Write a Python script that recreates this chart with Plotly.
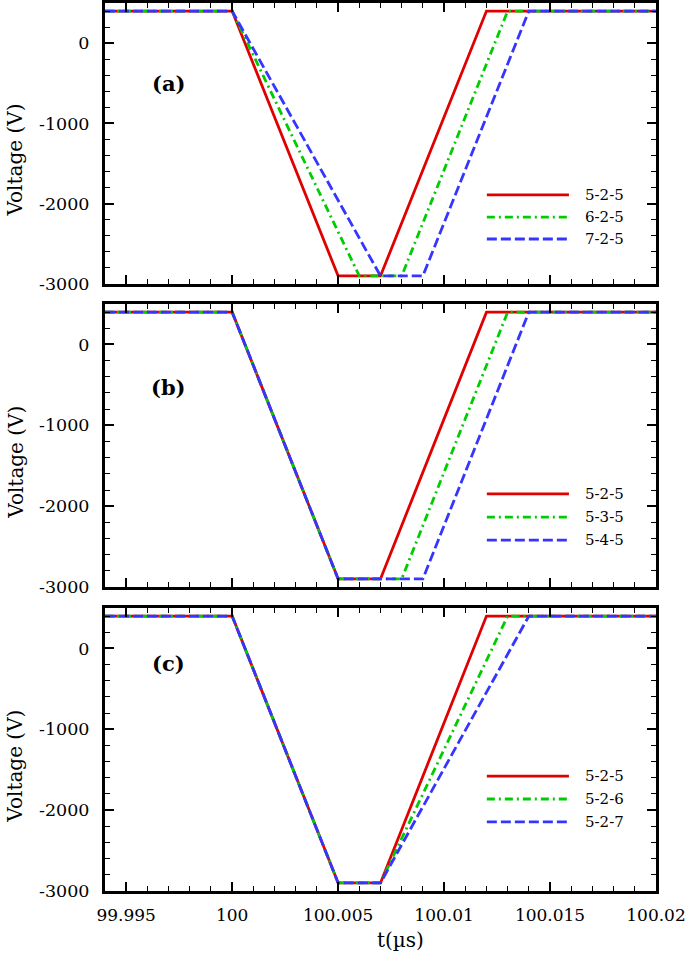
import plotly.graph_objects as go
from plotly.subplots import make_subplots

# ---------------- data ----------------
VOLT = [400, 400, -2900, -2900, 400, 400]

# panel (a)
T_A_525 = [99.994, 100.000, 100.005, 100.007, 100.012, 100.020]
T_A_625 = [99.994, 100.000, 100.006, 100.008, 100.013, 100.020]
T_A_725 = [99.994, 100.000, 100.007, 100.009, 100.014, 100.020]
# panel (b)
T_B_525 = [99.994, 100.000, 100.005, 100.007, 100.012, 100.020]
T_B_535 = [99.994, 100.000, 100.005, 100.008, 100.013, 100.020]
T_B_545 = [99.994, 100.000, 100.005, 100.009, 100.014, 100.020]
# panel (c)
T_C_525 = [99.994, 100.000, 100.005, 100.007, 100.012, 100.020]
T_C_526 = [99.994, 100.000, 100.005, 100.007, 100.013, 100.020]
T_C_527 = [99.994, 100.000, 100.005, 100.007, 100.014, 100.020]

NAMES_A = ["5-2-5", "6-2-5", "7-2-5"]
NAMES_B = ["5-2-5", "5-3-5", "5-4-5"]
NAMES_C = ["5-2-5", "5-2-6", "5-2-7"]
PANEL_LABELS = ["(a)", "(b)", "(c)"]

X_TICKS = [99.995, 100, 100.005, 100.01, 100.015, 100.02]
X_TICKTEXT = ["99.995", "100", "100.005", "100.01", "100.015", "100.02"]
Y_TICKS = [0, -1000, -2000, -3000]
Y_TICKTEXT = ["0", "-1000", "-2000", "-3000"]

# ---------------- styles ----------------
COLORS = ["#e00000", "#00cc00", "#3535ff"]
DASHES = ["solid", "8px,4px,2px,4px", "10px,4px"]
FONT = "DejaVu Serif"

panels = [
    ([T_A_525, T_A_625, T_A_725], NAMES_A),
    ([T_B_525, T_B_535, T_B_545], NAMES_B),
    ([T_C_525, T_C_526, T_C_527], NAMES_C),
]

fig = make_subplots(rows=3, cols=1, shared_xaxes=True, vertical_spacing=0.0)

domains = [[0.6836, 1.0], [0.3423, 0.661], [0.0, 0.3187]]

for r, (times, names) in enumerate(panels, start=1):
    for i, (t, nm) in enumerate(zip(times, names)):
        fig.add_trace(
            go.Scatter(x=t, y=VOLT, mode="lines", name=nm, showlegend=False,
                       line=dict(color=COLORS[i], width=2.8, dash=DASHES[i])),
            row=r, col=1)

axis_common = dict(showline=True, linewidth=3, linecolor="black", mirror="allticks",
                   ticks="inside", ticklen=9, tickwidth=1.8, tickcolor="black",
                   showgrid=False, zeroline=False, automargin=False)

for r in range(1, 4):
    xa = "xaxis" if r == 1 else f"xaxis{r}"
    ya = "yaxis" if r == 1 else f"yaxis{r}"
    fig.layout[xa].update(range=[99.994, 100.02], tickvals=X_TICKS, ticktext=X_TICKTEXT,
                          minor=dict(dtick=0.001, tick0=100, ticks="inside", ticklen=5,
                                     tickwidth=1.4, tickcolor="black"),
                          ticklabelstandoff=7, ticklabeloverflow="allow",
                          tickfont=dict(family=FONT, size=17, color="black"),
                          **axis_common)
    fig.layout[ya].update(range=[-3000, 500], tickvals=Y_TICKS, ticktext=Y_TICKTEXT,
                          domain=domains[r - 1],
                          minor=dict(dtick=200, tick0=0, ticks="inside", ticklen=5,
                                     tickwidth=1.4, tickcolor="black"),
                          ticklabelstandoff=9,
                          tickfont=dict(family=FONT, size=17.5, color="black"),
                          **axis_common)

fig.layout.xaxis3.showticklabels = True

label_y = [0.715, 0.705, 0.805]
for r in range(3):
    xr = "x domain" if r == 0 else f"x{r+1} domain"
    yr = "y domain" if r == 0 else f"y{r+1} domain"
    fig.add_annotation(text=f"<b>{PANEL_LABELS[r]}</b>", xref=xr, yref=yr,
                       x=0.116, y=label_y[r], xanchor="center", yanchor="middle",
                       showarrow=False, font=dict(family=FONT, size=21, color="black"))
    fig.add_annotation(text="Voltage (V)", xref="paper", yref=yr, x=-0.163, y=0.44,
                       xanchor="center", yanchor="middle",
                       textangle=-90, showarrow=False,
                       font=dict(family=FONT, size=20, color="black"))

leg_y = [[0.317, 0.238, 0.160], [0.329, 0.247, 0.166], [0.406, 0.325, 0.244]]
for r, (times, names) in enumerate(panels):
    xr = "x domain" if r == 0 else f"x{r+1} domain"
    yr = "y domain" if r == 0 else f"y{r+1} domain"
    for i, nm in enumerate(names):
        yy = leg_y[r][i]
        fig.add_shape(type="line", xref=xr, yref=yr, x0=0.693, x1=0.842, y0=yy, y1=yy,
                      line=dict(color=COLORS[i], width=2.8, dash=DASHES[i]))
        fig.add_annotation(text=nm, xref=xr, yref=yr, x=0.868, y=yy,
                           xanchor="left", yanchor="middle",
                           showarrow=False, font=dict(family=FONT, size=15, color="black"))

fig.add_annotation(text="t(µs)", xref="paper", yref="paper",
                   x=(400 - 105) / 551, y=(891 - 940) / 888,
                   xanchor="center", yanchor="middle",
                   showarrow=False, font=dict(family=FONT, size=20, color="black"))

fig.update_layout(width=685, height=960, margin=dict(l=105, r=29, t=3, b=69),
                  plot_bgcolor="white", paper_bgcolor="white", showlegend=False,
                  font=dict(family=FONT, color="black"))

fig.write_html("out.html", config={"displayModeBar": False},
               post_script="document.body.style.margin='0';document.body.style.overflow='hidden';")
